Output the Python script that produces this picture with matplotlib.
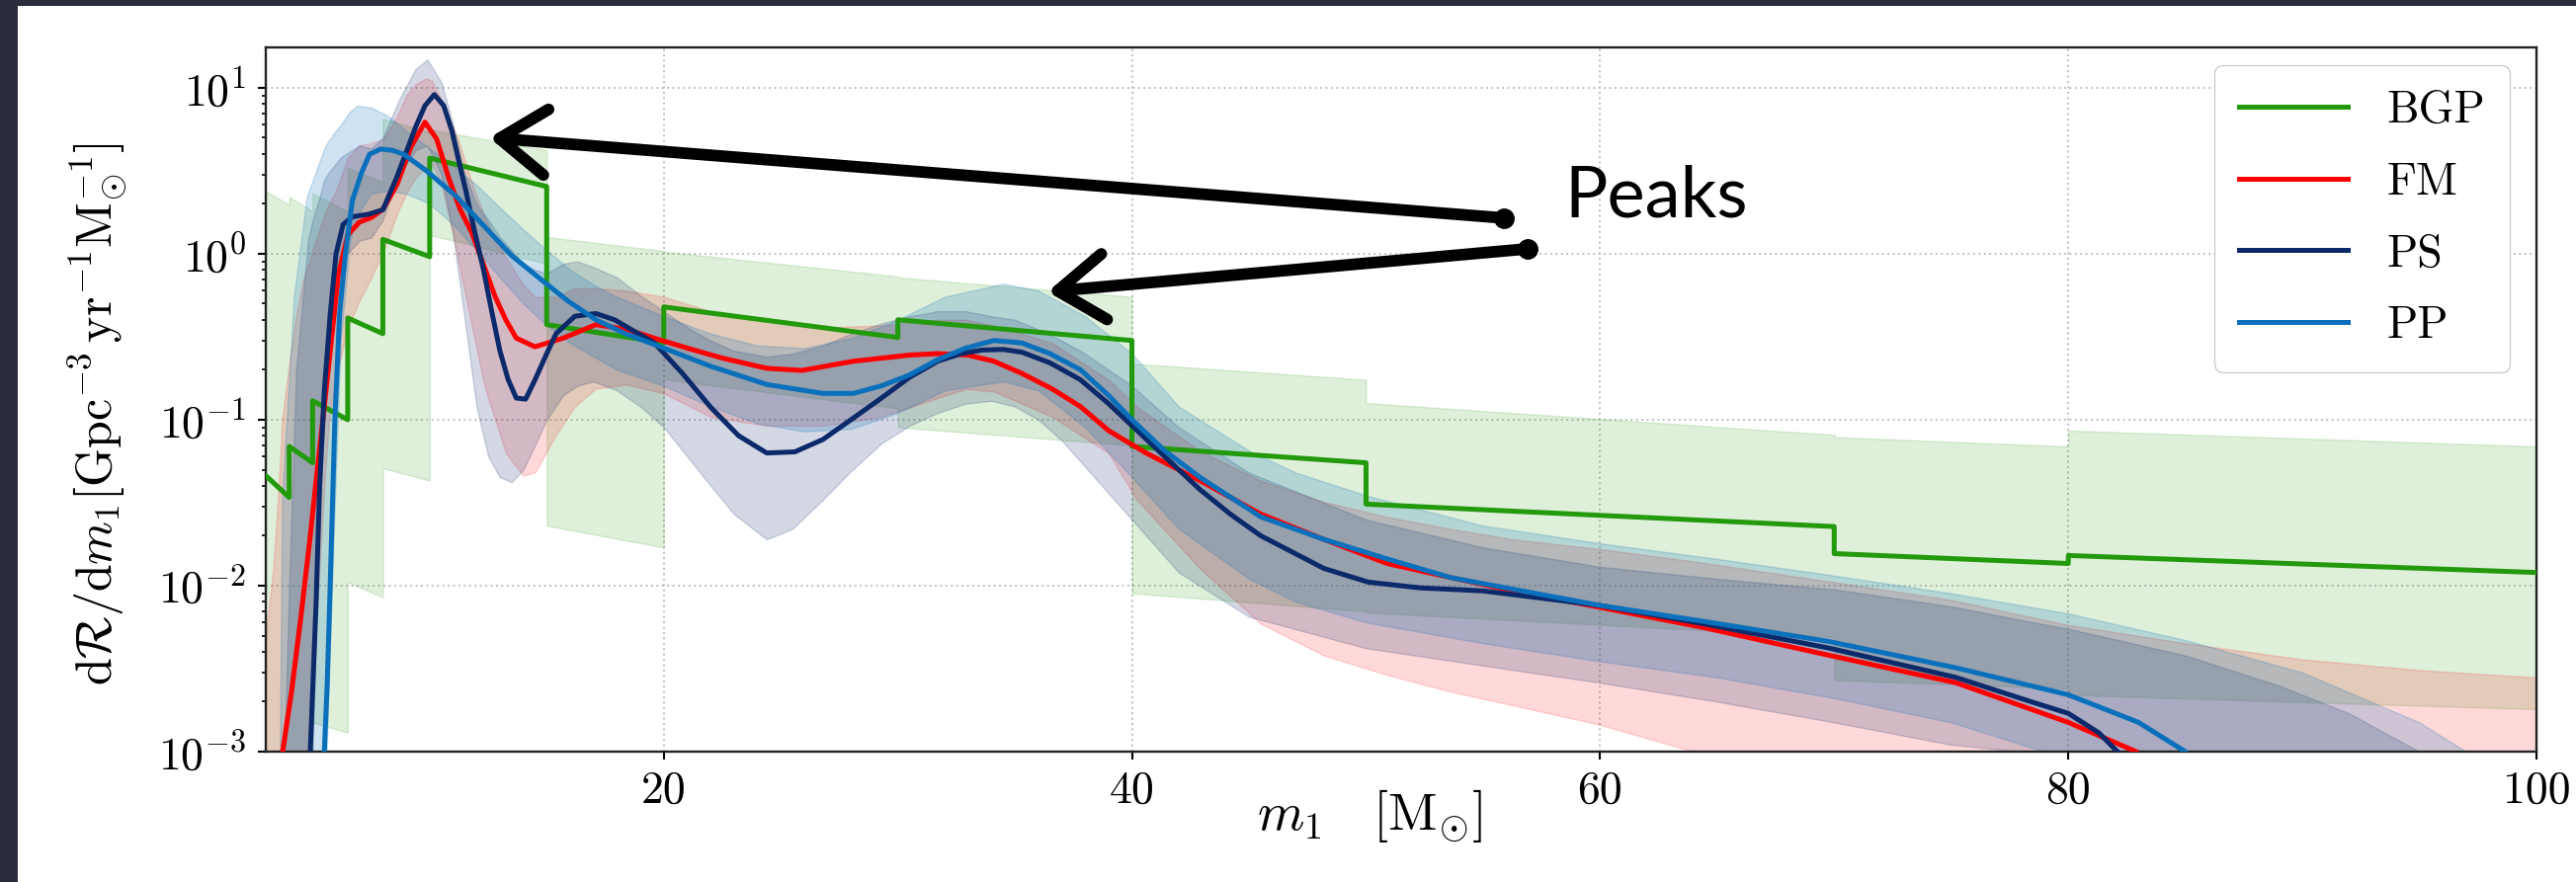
import numpy as np
import matplotlib
matplotlib.use("Agg")
import matplotlib.pyplot as plt
from matplotlib.patches import Rectangle, FancyArrowPatch, ArrowStyle
from matplotlib.ticker import LogLocator, FixedLocator, FuncFormatter, NullFormatter

plt.rcParams['font.family'] = 'serif'
plt.rcParams['font.serif'] = ['cmr10']
plt.rcParams['mathtext.fontset'] = 'cm'
plt.rcParams['axes.formatter.use_mathtext'] = True

# ---------------- data ----------------
# BGP: binned (piecewise) rate, values at start/end of each bin
bgp_edges = [3, 4, 5, 6.5, 8, 10, 15, 20, 30, 40, 50, 70, 80, 100]
bgp_start = [0.046, 0.069, 0.13, 0.41, 1.22, 3.77, 0.374, 0.478, 0.40, 0.069, 0.031, 0.0156, 0.0152]
bgp_end = [0.034, 0.055, 0.10, 0.33, 0.96, 2.54, 0.29, 0.313, 0.30, 0.055, 0.0227, 0.0136, 0.012]
bgp_hi_start = [2.38, 2.2, 2.3, 3.3, 6.5, 5.6, 1.26, 1.03, 0.72, 0.218, 0.126, 0.0785, 0.086]
bgp_hi_end = [1.97, 1.8, 1.8, 2.7, 5.4, 4.2, 1.04, 0.73, 0.55, 0.174, 0.081, 0.069, 0.069]
bgp_lo_start = [1e-4, 1e-4, 0.0015, 0.0105, 0.051, 1.3, 0.023, 0.175, 0.09, 0.009, 0.0069, 0.0027, 0.0022]
bgp_lo_end = [1e-4, 1e-4, 0.0013, 0.0085, 0.043, 0.87, 0.017, 0.117, 0.07, 0.007, 0.0049, 0.0024, 0.0018]

# FM median
fm_x = [3.72, 4.1, 4.5, 4.9, 5.2, 5.5, 5.8, 6.1, 6.5, 7.0, 7.5, 8.0, 8.6, 9.2, 9.8, 10.3, 10.8,
        11.3, 11.8, 12.3, 12.8, 13.25, 13.7, 14.5, 15.7, 17.1, 18.4, 19.6, 21.0, 22.5, 24.4, 25.9,
        28.1, 30.5, 31.7, 33.0, 34.1, 35.3, 36.6, 37.8, 39.0, 40.6, 42.9, 45.5, 48.2, 50.9, 53.6,
        56.3, 60.0, 64.4, 69.8, 75.2, 80.0, 82.9]
fm_y = [0.001, 0.0023, 0.0065, 0.02, 0.05, 0.12, 0.3, 0.75, 1.3, 1.55, 1.65, 1.85, 2.6, 4.4, 6.2,
        4.9, 2.9, 1.85, 1.34, 0.86, 0.55, 0.40, 0.31, 0.275, 0.31, 0.374, 0.35, 0.31, 0.27, 0.235,
        0.204, 0.198, 0.225, 0.245, 0.25, 0.245, 0.225, 0.19, 0.153, 0.12, 0.086, 0.063, 0.043,
        0.027, 0.019, 0.0136, 0.0112, 0.0093, 0.0074, 0.0056, 0.0038, 0.0026, 0.0015, 0.001]
fm_band_x = [3.0, 3.3, 3.5, 3.7, 4.0, 4.3, 4.6, 4.8, 5.0, 5.25, 5.5, 5.7, 6.0, 6.5, 7.0, 7.4, 8.0,
             8.6, 9.0, 9.4, 9.85, 10.1, 10.5, 11.0, 11.3, 11.8, 12.3, 12.5, 13.25, 14.0, 14.5, 15.4,
             16.2, 17.1, 18.4, 20, 22, 24.4, 26.8, 29.3, 31.7, 32.9, 34.1, 36.6, 39, 40.2, 42.9,
             45.5, 48.2, 50.9, 53.6, 56.3, 60, 64, 70, 75, 80, 85, 90, 95, 100]
fm_hi = [0.005, 0.012, 0.03, 0.1, 0.22, 0.43, 0.7, 0.85, 1.05, 1.35, 1.7, 2.0, 2.4, 3.8, 4.5, 4.6,
         4.9, 6.7, 9.0, 10.5, 11.4, 11.0, 8.5, 5.8, 4.5, 2.7, 1.74, 1.5, 0.95, 0.65, 0.55, 0.55,
         0.62, 0.62, 0.6, 0.55, 0.45, 0.4, 0.36, 0.37, 0.4, 0.4, 0.37, 0.29, 0.174, 0.12, 0.065,
         0.043, 0.032, 0.026, 0.022, 0.019, 0.0166, 0.014, 0.0105, 0.0082, 0.0058, 0.0045, 0.0036,
         0.0031, 0.0028]
fm_lo = [1e-4, 1e-4, 1e-4, 1e-4, 1e-4, 1e-4, 1e-4, 0.001, 0.003, 0.01, 0.04, 0.1, 0.18, 0.36,
         0.52, 0.67, 1.0, 1.73, 2.3, 2.88, 3.3, 3.5, 2.6, 1.3, 0.8, 0.37, 0.17, 0.135, 0.063, 0.046,
         0.048, 0.081, 0.12, 0.154, 0.163, 0.144, 0.104, 0.092, 0.092, 0.104, 0.135, 0.153, 0.148,
         0.104, 0.063, 0.033, 0.0127, 0.0059, 0.0038, 0.0029, 0.0023, 0.0019, 0.00145, 0.001,
         1e-4, 1e-4, 1e-4, 1e-4, 1e-4, 1e-4, 1e-4]

# PS median
ps_x = [4.9, 5.0, 5.15, 5.3, 5.5, 5.75, 6.0, 6.3, 6.7, 7.4, 8.0, 8.6, 9.0, 9.4, 9.8, 10.2, 10.6,
        10.95, 11.25, 11.55, 11.9, 12.3, 12.65, 13.0, 13.35, 13.7, 14.1, 14.5, 15.0, 15.4, 16.2,
        17.1, 17.9, 18.6, 19.6, 20.8, 22.0, 23.2, 24.4, 25.6, 26.8, 28.0, 29.3, 30.5, 31.7, 32.7,
        33.6, 34.5, 35.3, 36.5, 37.8, 39.0, 40.0, 41.4, 42.9, 44.2, 45.5, 48.2, 50.1, 52.3, 55.0,
        60.0, 64.4, 69.8, 75.2, 78.4, 80.0, 81.3, 82.1]
ps_y = [0.001, 0.0023, 0.008, 0.04, 0.15, 0.43, 1.0, 1.5, 1.67, 1.73, 1.84, 2.9, 4.1, 5.8, 7.8,
        9.1, 7.8, 5.5, 3.6, 2.38, 1.4, 0.8, 0.45, 0.26, 0.175, 0.135, 0.133, 0.174, 0.25, 0.33,
        0.42, 0.436, 0.40, 0.35, 0.29, 0.19, 0.119, 0.08, 0.063, 0.064, 0.076, 0.1, 0.135, 0.18,
        0.225, 0.25, 0.263, 0.265, 0.255, 0.22, 0.174, 0.125, 0.092, 0.06, 0.038, 0.027, 0.020,
        0.0127, 0.0105, 0.0097, 0.0093, 0.0076, 0.0059, 0.0042, 0.0028, 0.002, 0.0017, 0.0013, 0.001]
ps_band_x = [3.8, 4.0, 4.3, 4.8, 5.0, 5.3, 5.5, 5.7, 6.2, 7.0, 7.5, 8.0, 8.7, 9.4, 9.9, 10.5, 11.0,
             11.5, 12.0, 12.5, 13.0, 13.5, 14.0, 14.5, 15.0, 15.7, 16.3, 17.0, 18.0, 19.0, 20.0,
             21.0, 22.0, 23.0, 24.4, 25.5, 26.8, 28.0, 29.3, 30.5, 31.7, 32.9, 34.0, 35.0, 36.0,
             37.0, 38.0, 39.0, 40.0, 42.0, 45.0, 50.0, 55.0, 60.0, 65.0, 70.0, 75.0, 78.0, 80.0,
             85.0, 89.0, 92.0, 95.0]
ps_hi = [0.001, 0.01, 0.2, 1.2, 1.6, 2.2, 2.8, 3.1, 3.8, 4.5, 4.3, 5.0, 8.5, 13.0, 14.8, 10.8,
         6.0, 3.0, 2.0, 1.6, 1.26, 1.05, 0.87, 0.8, 0.76, 0.87, 0.9, 0.83, 0.72, 0.56, 0.45, 0.36,
         0.3, 0.26, 0.24, 0.25, 0.28, 0.33, 0.38, 0.42, 0.45, 0.45, 0.42, 0.4, 0.35, 0.3, 0.25,
         0.2, 0.16, 0.09, 0.048, 0.025, 0.017, 0.013, 0.011, 0.0095, 0.0075, 0.0062, 0.0055,
         0.0038, 0.0025, 0.0017, 0.001]
ps_lo = [1e-4, 1e-4, 1e-4, 1e-4, 0.001, 0.03, 0.1, 0.3, 0.9, 1.2, 1.25, 1.6, 3.0, 4.2, 4.5, 3.0,
         1.3, 0.4, 0.12, 0.06, 0.045, 0.042, 0.05, 0.07, 0.1, 0.14, 0.16, 0.17, 0.15, 0.12, 0.09,
         0.06, 0.04, 0.027, 0.019, 0.022, 0.033, 0.049, 0.072, 0.092, 0.11, 0.125, 0.13, 0.12,
         0.1, 0.075, 0.052, 0.036, 0.025, 0.012, 0.0065, 0.0042, 0.0033, 0.0026, 0.002, 0.0015,
         0.0011, 0.001, 1e-4, 1e-4, 1e-4, 1e-4, 1e-4]

# PP median
pp_x = [5.5, 5.62, 5.75, 5.95, 6.15, 6.4, 6.7, 7.1, 7.43, 7.9, 8.4, 8.9, 9.85, 11.1, 12.3, 13.5,
        14.7, 15.9, 17.1, 18.35, 20.0, 22.0, 24.4, 26.8, 28.1, 29.3, 30.5, 31.7, 32.9, 34.1, 35.3,
        36.5, 37.8, 39.0, 40.0, 41.4, 42.9, 45.5, 48.2, 50.9, 53.6, 60.0, 64.4, 69.8, 75.2, 80.0,
        83.0, 85.0]
pp_y = [0.001, 0.0025, 0.01, 0.1, 0.43, 1.0, 2.1, 3.1, 3.97, 4.27, 4.2, 3.97, 3.17, 2.24, 1.48,
        0.975, 0.71, 0.52, 0.40, 0.33, 0.27, 0.21, 0.163, 0.144, 0.144, 0.16, 0.186, 0.23, 0.27,
        0.30, 0.29, 0.25, 0.2, 0.14, 0.1, 0.065, 0.045, 0.026, 0.019, 0.0145, 0.0112, 0.0076,
        0.0061, 0.0046, 0.0032, 0.0022, 0.0015, 0.001]
pp_band_x = [3.6, 3.7, 4.2, 4.75, 5.2, 5.5, 5.6, 5.9, 6.2, 6.6, 6.9, 7.5, 8.2, 9.0, 10.0, 11.0,
             12.0, 13.0, 14.0, 15.0, 16.0, 17.0, 18.0, 20.0, 22.0, 24.0, 26.0, 28.0, 30.0, 32.0,
             34.5, 36.0, 38.0, 40.0, 42.0, 45.0, 47.0, 50.0, 55.0, 60.0, 65.0, 70.0, 75.0, 80.0,
             85.0, 90.0, 95.0, 97.0]
pp_hi = [0.001, 0.035, 0.55, 2.2, 3.3, 4.3, 4.6, 5.3, 6.0, 7.2, 7.8, 7.6, 6.8, 5.5, 4.3, 3.4, 2.6,
         1.9, 1.4, 1.05, 0.8, 0.65, 0.55, 0.42, 0.33, 0.28, 0.27, 0.31, 0.4, 0.55, 0.66, 0.6,
         0.42, 0.25, 0.12, 0.065, 0.048, 0.035, 0.023, 0.018, 0.0145, 0.0115, 0.009, 0.0068,
         0.0047, 0.003, 0.0015, 0.001]
pp_lo = [1e-4, 1e-4, 1e-4, 1e-4, 1e-4, 1e-4, 0.001, 0.02, 0.3, 1.2, 1.7, 2.3, 2.4, 2.3, 2.0, 1.5,
         1.05, 0.72, 0.5, 0.37, 0.29, 0.24, 0.2, 0.16, 0.12, 0.095, 0.085, 0.088, 0.11, 0.15,
         0.17, 0.15, 0.09, 0.045, 0.022, 0.011, 0.008, 0.006, 0.0045, 0.0035, 0.0028, 0.0021,
         0.0015, 0.0009, 1e-4, 1e-4, 1e-4, 1e-4]

labels = ['BGP', 'FM', 'PS', 'PP']
colors = {'BGP': '#229a0c', 'FM': '#ff0000', 'PS': '#0c2a6a', 'PP': '#0a70bb'}

x_ticks = [20, 40, 60, 80, 100]

# annotation (hand-drawn arrows + label)
peaks_text = 'Peaks'
arrow1 = ((55.9, 1.64), (12.55, 5.0))
arrow2 = ((56.9, 1.07), (36.4, 0.59))
peaks_pos = (62.4, 2.2)

# ---------------- figure ----------------
W, H, DPI = 2607, 893, 100
fig = plt.figure(figsize=(W / DPI, H / DPI), dpi=DPI, facecolor='white')
# dark slide background strips
fig.patches.append(Rectangle((0, 0), 18 / W, 1, transform=fig.transFigure,
                             facecolor='#2a2c3b', edgecolor='none', zorder=-10))
fig.patches.append(Rectangle((0, 1 - 6 / H), 1, 6 / H, transform=fig.transFigure,
                             facecolor='#2a2c3b', edgecolor='none', zorder=-10))

ax = fig.add_axes([269 / W, 1 - 761 / H, (2567 - 269) / W, (761 - 48) / H])
ax.set_yscale('log')
ax.set_xlim(3, 100)
ax.set_ylim(1e-3, 17.5)

# BGP step construction from bins
bx, by, bhi, blo = [], [], [], []
for i in range(len(bgp_start)):
    bx += [bgp_edges[i], bgp_edges[i + 1]]
    by += [bgp_start[i], bgp_end[i]]
    bhi += [bgp_hi_start[i], bgp_hi_end[i]]
    blo += [bgp_lo_start[i], bgp_lo_end[i]]

band_alpha = 0.15
ax.fill_between(bx, blo, bhi, color=colors['BGP'], alpha=band_alpha, lw=1, zorder=1)
ax.fill_between(fm_band_x, fm_lo, fm_hi, color=colors['FM'], alpha=band_alpha, lw=1, zorder=1)
ax.fill_between(ps_band_x, ps_lo, ps_hi, color=colors['PS'], alpha=0.18, lw=1, zorder=1)
ax.fill_between(pp_band_x, pp_lo, pp_hi, color=colors['PP'], alpha=0.2, lw=1, zorder=1)

lw = 3.6
h1, = ax.plot(bx, by, color=colors['BGP'], lw=lw, zorder=3, label=labels[0])
h2, = ax.plot(fm_x, fm_y, color=colors['FM'], lw=lw, zorder=3, label=labels[1])
h3, = ax.plot(ps_x, ps_y, color=colors['PS'], lw=lw, zorder=3, label=labels[2])
h4, = ax.plot(pp_x, pp_y, color=colors['PP'], lw=lw, zorder=3, label=labels[3])

# axes styling
ax.xaxis.set_major_locator(FixedLocator(x_ticks))
ax.xaxis.set_major_formatter(FuncFormatter(lambda v, p: '%d' % v))
ax.yaxis.set_major_locator(LogLocator(base=10, numticks=10))
ax.yaxis.set_minor_locator(LogLocator(base=10, subs=np.arange(2, 10), numticks=10))
ax.yaxis.set_major_formatter(FuncFormatter(lambda v, p: r'$10^{%d}$' % int(round(np.log10(v)))))
ax.yaxis.set_minor_formatter(NullFormatter())
ax.tick_params(axis='both', which='major', labelsize=33, length=6, width=1.5, direction='out',
               pad=8, top=False, right=False)
ax.tick_params(axis='y', which='minor', length=3, width=1.2, direction='out', right=False)
for s in ax.spines.values():
    s.set_linewidth(1.7)
    s.set_color('#222222')
ax.grid(True, which='major', axis='both', linestyle=(0, (1, 2)), color='#b5b5b5', lw=1.3)
ax.set_axisbelow(True)

ax.set_xlabel(r'$m_1\quad[\mathrm{M}_{\odot}]$', fontsize=39)
ax.set_ylabel(r'$\mathrm{d}\mathcal{R}/\mathrm{d}m_1[\mathrm{Gpc}^{-3}\,\mathrm{yr}^{-1}\mathrm{M}_{\odot}^{-1}]$',
              fontsize=36)
ax.xaxis.set_label_coords(0.486, -0.05)
ax.yaxis.set_label_coords(-0.06, 0.48)

leg = ax.legend(handles=[h1, h2, h3, h4], loc='upper right', bbox_to_anchor=(0.9883, 0.9748),
                borderaxespad=0, fontsize=33, handlelength=2.4, handletextpad=0.85,
                labelspacing=0.68, borderpad=0.55, fancybox=True, framealpha=1,
                edgecolor='#cccccc')
for ln in leg.get_lines():
    ln.set_linewidth(3.6)

# hand drawn annotation
for (tail, tip) in (arrow1, arrow2):
    arr = FancyArrowPatch(tail, tip, arrowstyle=ArrowStyle('->', head_length=34, head_width=24),
                          mutation_scale=1, lw=8.5, color='black', capstyle='round',
                          joinstyle='round', shrinkA=0, shrinkB=0, zorder=10, clip_on=False)
    ax.add_patch(arr)
    ax.plot([tail[0]], [tail[1]], 'o', color='black', ms=14, zorder=10, clip_on=False)
ax.text(peaks_pos[0], peaks_pos[1], peaks_text, fontsize=52, family=['Lato', 'DejaVu Sans'],
        ha='center', va='center', color='black', zorder=11)

fig.savefig('out.png', dpi=DPI, facecolor='white')
